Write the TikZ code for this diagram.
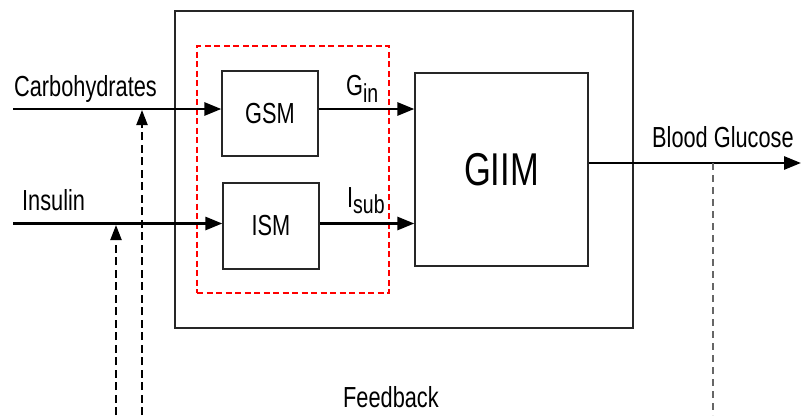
\documentclass[tikz,border=0pt]{standalone}
\usepackage{fontspec}
\setmainfont[FakeStretch=0.75]{Liberation Sans}
\usetikzlibrary{arrows.meta}
\begin{document}
\begin{tikzpicture}[x=1pt,y=-1pt,
  lbl/.style={inner sep=0pt, anchor=base west, font=\fontsize{29}{32}\selectfont},
  blk/.style={draw=black!85, line width=1.3pt, inner sep=0pt},
  sig/.style={line width=2.8pt, -{Triangle[length=17pt,width=13pt]}},
  fb/.style={line width=2.1pt, dash pattern=on 8pt off 4.5pt, -{Triangle[length=15pt,width=11pt]}},
  fbline/.style={line width=1.1pt, draw=black!60, dash pattern=on 7pt off 5pt}]
\useasboundingbox (0,0) rectangle (802,415);
% outer and red boxes
\node[draw=black!85, line width=2.2pt, minimum width=458pt, minimum height=317pt, inner sep=0pt] (outer) at (404,169.5) {};
\node[draw=red, line width=1.1pt, dash pattern=on 6pt off 3.5pt, minimum width=192pt, minimum height=247pt, inner sep=0pt] (red) at (293,169.5) {};
% blocks
\node[blk, minimum width=96pt, minimum height=85pt, font=\fontsize{29}{32}\selectfont] (gsm) at (270,113.5) {GSM};
\node[blk, minimum width=96pt, minimum height=86pt, font=\fontsize{29}{32}\selectfont] (ism) at (271,226) {ISM};
\node[blk, minimum width=173pt, minimum height=193pt, font=\fontsize{46}{50}\selectfont] (giim) at (501.5,169.5) {GIIM};
% coordinates
\coordinate (c0) at (13,109);
\coordinate (i0) at (13,223.5);
\coordinate (bgEnd) at (801,163);
\coordinate (fbTop) at (713,163);
\coordinate (fbBot) at (713,415);
\coordinate (fbA0) at (142,415);
\coordinate (fbA1) at (142,110);
\coordinate (fbB0) at (116,415);
\coordinate (fbB1) at (116,225);
% signals
\draw[sig] (c0) -- (c0 -| gsm.west);
\draw[sig] (i0) -- (i0 -| ism.west);
\draw[sig] (gsm.east |- c0) -- (giim.west |- c0);
\draw[sig] (ism.east |- i0) -- (giim.west |- i0);
\draw[sig] (giim.east |- bgEnd) -- (bgEnd);
% feedback
\draw[fbline] (fbTop) -- (fbBot);
\draw[fb] (fbA0) -- (fbA1);
\draw[fb] (fbB0) -- (fbB1);
% labels
\node[lbl] (lcarb) at (14,96) {Carbohydrates};
\node[lbl] (lins) at (22,210) {Insulin};
\node[lbl] (lgin) at (346,95) {G\raisebox{-7pt}{\fontsize{26}{27}\selectfont in}};
\node[lbl] (lisub) at (347,207) {I\raisebox{-6pt}{\fontsize{26}{27}\selectfont sub}};
\node[lbl] (lbg) at (652,147) {Blood Glucose};
\node[lbl] (lfb) at (343,407) {Feedback};
\end{tikzpicture}
\end{document}
